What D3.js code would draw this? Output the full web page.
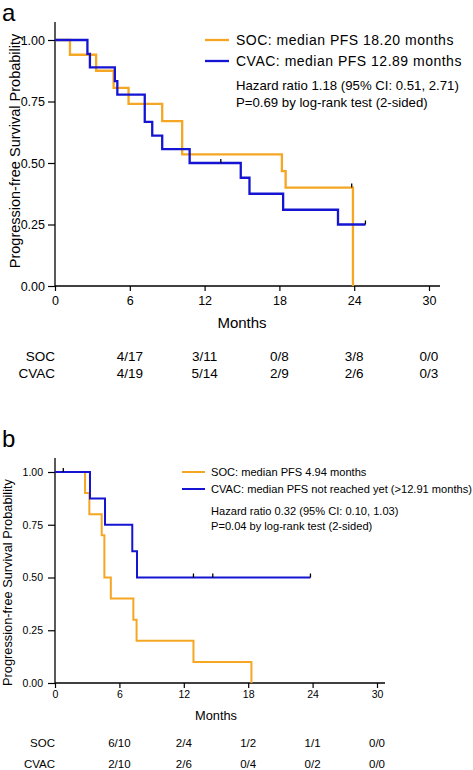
<!DOCTYPE html>
<html><head><meta charset="utf-8">
<script src="https://cdn.jsdelivr.net/npm/d3@7"></script>
<style>
body{margin:0;background:#fff;}
svg{display:block;font-family:"Liberation Sans",Arial,Helvetica,sans-serif;}
</style></head>
<body>
<svg id="c" width="473" height="770"></svg>
<script>
// ---------- data ----------
const monthTicks = [0, 6, 12, 18, 24, 30];
const probTicks = [0, 0.25, 0.5, 0.75, 1];
const tableTimes = [6, 12, 18, 24, 30];
const groups = ["SOC", "CVAC"];

// Panel a
const aSocTime = [0, 1.2, 3.3, 4.7, 5.9, 8.6, 10.2, 18.2, 18.5, 23.9];
const aSocSurv = [1, 0.94, 0.875, 0.805, 0.74, 0.67, 0.535, 0.467, 0.40, 0];
const aSocCensor = [[23.8, 0.40]];
const aCvacTime = [0, 2.6, 2.8, 4.8, 5.0, 7.2, 7.8, 8.6, 10.8, 14.9, 15.6, 18.3, 22.7, 24.9];
const aCvacSurv = [1, 0.944, 0.889, 0.833, 0.778, 0.667, 0.611, 0.556, 0.5, 0.44, 0.375, 0.31, 0.25, 0.25];
const aCvacCensor = [[13.3, 0.5], [24.9, 0.25]];
const aSocTable = ["4/17", "3/11", "0/8", "3/8", "0/0"];
const aCvacTable = ["4/19", "5/14", "2/9", "2/6", "0/3"];
const aLegend = ["SOC: median PFS 18.20 months", "CVAC: median PFS 12.89 months"];
const aStats = ["Hazard ratio 1.18 (95% CI: 0.51, 2.71)", "P=0.69 by log-rank test (2-sided)"];

// Panel b
const bSocTime = [0, 2.8, 3.2, 4.35, 4.6, 5.2, 7.3, 7.6, 12.9, 18.3];
const bSocSurv = [1, 0.9, 0.8, 0.7, 0.5, 0.4, 0.3, 0.2, 0.1, 0];
const bSocCensor = [];
const bCvacTime = [0, 3.26, 4.66, 7.2, 7.64, 23.8];
const bCvacSurv = [1, 0.875, 0.75, 0.625, 0.5, 0.5];
const bCvacCensor = [[0.77, 1], [12.9, 0.5], [14.7, 0.5], [23.8, 0.5]];
const bSocTable = ["6/10", "2/4", "1/2", "1/1", "0/0"];
const bCvacTable = ["2/10", "2/6", "0/4", "0/2", "0/0"];
const bLegend = ["SOC: median PFS 4.94 months", "CVAC: median PFS not reached yet (>12.91 months)"];
const bStats = ["Hazard ratio 0.32 (95% CI: 0.10, 1.03)", "P=0.04 by log-rank test (2-sided)"];

const ORANGE = "#F5A623", BLUE = "#1414D2";
const svg = d3.select("#c");

function panel(o) {
  const g = svg.append("g");
  const x = d3.scaleLinear().domain([0, 30]).range([o.x0, o.x1]);
  const y = d3.scaleLinear().domain([0, 1]).range([o.y0, o.y1]);

  g.append("text").attr("x", 2).attr("y", o.letterY).attr("font-size", o.letterSize)
    .text(o.letter);

  // x axis
  const xa = g.append("g").attr("transform", `translate(0,${o.y0})`)
    .call(d3.axisBottom(x).tickValues(monthTicks).tickSize(5).tickSizeOuter(0).tickPadding(o.xPad));
  xa.select(".domain").remove();
  xa.selectAll("text").attr("font-size", o.tickFont).attr("fill", "#000");
  xa.selectAll("line").attr("stroke-width", 1.2);
  g.append("line").attr("x1", x(0)).attr("x2", x(30) + o.xExt).attr("y1", o.y0).attr("y2", o.y0)
    .attr("stroke", "#000").attr("stroke-width", 1.3);

  // y axis
  const ya = g.append("g").attr("transform", `translate(${o.x0},0)`)
    .call(d3.axisLeft(y).tickValues(probTicks).tickFormat(d3.format(".2f")).tickSize(7).tickSizeOuter(0).tickPadding(o.yPad));
  ya.select(".domain").remove();
  ya.selectAll("text").attr("font-size", o.tickFont).attr("fill", "#000");
  ya.selectAll("line").attr("stroke-width", 1.2);
  g.append("line").attr("x1", o.x0).attr("x2", o.x0).attr("y1", o.y0).attr("y2", y(1) - o.yExt)
    .attr("stroke", "#000").attr("stroke-width", 1.3);

  g.append("text").attr("transform", `translate(${o.ylabX},${(y(0) + y(1)) / 2 + o.ylabShift}) rotate(-90)`)
    .attr("text-anchor", "middle").attr("font-size", o.ylabSize).text("Progression-free Survival Probability");
  g.append("text").attr("x", (x(0) + x(30)) / 2).attr("y", o.monthsY).attr("text-anchor", "middle")
    .attr("font-size", o.monthsSize).text("Months");

  // curves
  const line = d3.line().x(d => x(d[0])).y(d => y(d[1])).curve(d3.curveStepAfter);
  const curves = [
    {t: o.socT, s: o.socS, c: ORANGE, cens: o.socC},
    {t: o.cvT, s: o.cvS, c: BLUE, cens: o.cvC}
  ];
  curves.forEach(cv => {
    const pts = cv.t.map((t, i) => [t, cv.s[i]]);
    g.append("path").attr("d", line(pts)).attr("fill", "none").attr("stroke", cv.c)
      .attr("stroke-width", o.lw);
  });
  curves.forEach(cv => {
    cv.cens.forEach(p => {
      g.append("line").attr("x1", x(p[0])).attr("x2", x(p[0]))
        .attr("y1", y(p[1])).attr("y2", y(p[1]) - 4).attr("stroke", "#000").attr("stroke-width", 1.3);
    });
  });

  // legend
  [ORANGE, BLUE].forEach((c, i) => {
    const ly = o.legY[i];
    g.append("line").attr("x1", o.legX0).attr("x2", o.legX1).attr("y1", ly).attr("y2", ly)
      .attr("stroke", c).attr("stroke-width", o.lw);
    g.append("text").attr("x", o.legTx).attr("y", ly).attr("dy", "0.36em")
      .attr("font-size", o.legSize).attr("letter-spacing", o.legLs).text(o.legend[i]);
  });
  o.stats.forEach((s, i) => {
    g.append("text").attr("x", o.legTx).attr("y", o.statY[i]).attr("dy", "0.36em")
      .attr("font-size", o.statSize).text(s);
  });

  // at-risk table
  groups.forEach((gr, i) => {
    const ty = o.tabY[i];
    g.append("text").attr("x", o.x0).attr("y", ty).attr("dy", "0.36em").attr("text-anchor", "end")
      .attr("font-size", o.tabSize).text(gr);
    const vals = i === 0 ? o.socTab : o.cvTab;
    tableTimes.forEach((t, j) => {
      g.append("text").attr("x", x(t)).attr("y", ty).attr("dy", "0.36em").attr("text-anchor", "middle")
        .attr("font-size", o.tabSize).text(vals[j]);
    });
  });
}

panel({
  letter: "a", letterY: 21, letterSize: 24,
  x0: 55, x1: 429, y0: 286, y1: 40, xExt: 11, yExt: 18, xPad: 5, yPad: 3,
  tickFont: 12.5, ylabX: 20, ylabShift: -12, ylabSize: 14.5, monthsY: 328, monthsSize: 15,
  socT: aSocTime, socS: aSocSurv, socC: aSocCensor, cvT: aCvacTime, cvS: aCvacSurv, cvC: aCvacCensor,
  lw: 2.3, legX0: 205, legX1: 229, legTx: 236, legY: [40, 61], statY: [85, 102], legSize: 14, legLs: 0.5,
  statSize: 13.2, legend: aLegend, stats: aStats, tabY: [356, 373], tabSize: 13.5,
  socTab: aSocTable, cvTab: aCvacTable
});

panel({
  letter: "b", letterY: 447, letterSize: 24,
  x0: 55, x1: 377, y0: 683, y1: 472, xExt: 8, yExt: 14, xPad: 3, yPad: 5,
  tickFont: 10.5, ylabX: 12, ylabShift: 5, ylabSize: 12.8, monthsY: 720, monthsSize: 12.8,
  socT: bSocTime, socS: bSocSurv, socC: bSocCensor, cvT: bCvacTime, cvS: bCvacSurv, cvC: bCvacCensor,
  lw: 2, legX0: 182, legX1: 205, legTx: 211, legY: [472, 489], statY: [511, 526], legSize: 11.1, legLs: 0,
  statSize: 11.1, legend: bLegend, stats: bStats, tabY: [743, 764], tabSize: 11.5,
  socTab: bSocTable, cvTab: bCvacTable
});
</script>
</body></html>
